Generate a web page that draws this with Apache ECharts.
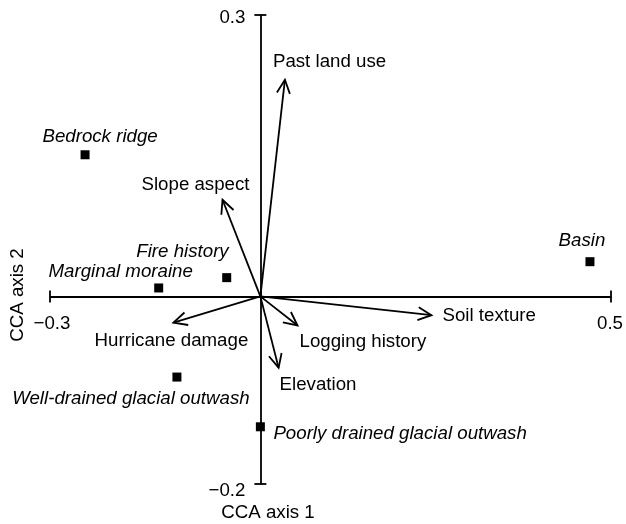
<!DOCTYPE html>
<html>
<head>
<meta charset="UTF-8">
<title>CCA biplot</title>
<script src="https://cdn.jsdelivr.net/npm/echarts@6/dist/echarts.min.js"></script>
<style>
    html, body { margin: 0; padding: 0; background: #fff; }
    #chart { width: 626px; height: 524px; }
</style>
</head>
<body>
<div id="chart"></div>
<script>
    // sites (squares)
    const siteNames = ['Bedrock ridge', 'Basin', 'Fire history', 'Marginal moraine',
        'Well-drained glacial outwash', 'Poorly drained glacial outwash'];
    const siteAxis1 = [-0.250, 0.470, -0.048, -0.145, -0.119, 0.000];
    const siteAxis2 = [0.151, 0.037, 0.020, 0.009, -0.086, -0.139];

    // environmental variables (arrows)
    const varNames = ['Past land use', 'Slope aspect', 'Hurricane damage',
        'Logging history', 'Elevation', 'Soil texture'];
    const varAxis1 = [0.035, -0.054, -0.124, 0.053, 0.026, 0.244];
    const varAxis2 = [0.231, 0.103, -0.028, -0.031, -0.076, -0.020];

    const xTicks = [-0.3, 0.5];
    const yTicks = [-0.2, 0.3];

    // label placement (pixels from the mark)
    const siteLabelPos = [
        { offset: [15, -18], align: 'center' },
        { offset: [-8, -21], align: 'center' },
        { offset: [2, -26], align: 'right' },
        { offset: [-38, -16], align: 'center' },
        { offset: [-46, 22], align: 'center' },
        { offset: [13, 7], align: 'left' }
    ];
    const varLabelPos = [
        { offset: [-12, -18], align: 'left' },
        { offset: [-27, -15], align: 'center' },
        { offset: [-2, 18], align: 'center' },
        { offset: [2, 16], align: 'left' },
        { offset: [1, 17], align: 'left' },
        { offset: [11, 1], align: 'left' }
    ];

    const FONT = 'Liberation Sans, Arial, Helvetica, sans-serif';
    const FS = 18.7;
    const fmt = v => (v < 0 ? '\u2212' : '') + Math.abs(v).toFixed(1);

    const chart = echarts.init(document.getElementById('chart'));

    const siteData = siteNames.map((n, i) => ({
        name: n,
        value: [siteAxis1[i], siteAxis2[i]],
        label: {
            show: true,
            formatter: n,
            position: 'inside',
            offset: siteLabelPos[i].offset,
            align: siteLabelPos[i].align,
            verticalAlign: 'middle'
        }
    }));

    // end labels of the axes, placed through the axis scales
    const tickLabelData = [
        ...xTicks.map(v => ({ value: [v, 0], label: { formatter: fmt(v), offset: [v < 0 ? 2 : -1, 27], align: 'center' } })),
        ...yTicks.map(v => ({ value: [0, v], label: { formatter: fmt(v), offset: [-15, v > 0 ? 3 : 7], align: 'right' } }))
    ];

    const arrowData = varNames.map((n, i) => [varAxis1[i], varAxis2[i], i]);

    function renderArrow(params, api) {
        const i = api.value(2);
        const o = api.coord([0, 0]);
        const p = api.coord([api.value(0), api.value(1)]);
        const ang = Math.atan2(p[1] - o[1], p[0] - o[0]);
        const len = 15, spread = 0.45;
        const a1 = [p[0] - len * Math.cos(ang - spread), p[1] - len * Math.sin(ang - spread)];
        const a2 = [p[0] - len * Math.cos(ang + spread), p[1] - len * Math.sin(ang + spread)];
        const lp = varLabelPos[i];
        return {
            type: 'group',
            children: [
                { type: 'line', shape: { x1: o[0], y1: o[1], x2: p[0], y2: p[1] },
                  style: { stroke: '#000', lineWidth: 1.8 } },
                { type: 'polyline', shape: { points: [a1, p, a2] },
                  style: { stroke: '#000', lineWidth: 1.8, fill: null } },
                { type: 'text', x: p[0] + lp.offset[0], y: p[1] + lp.offset[1],
                  style: { text: varNames[i], font: FS + 'px ' + FONT, fill: '#000',
                           align: lp.align, verticalAlign: 'middle' } }
            ]
        };
    }

    const mainAxisLine = { onZero: true, lineStyle: { color: '#000', width: 1.8 } };
    const tickStyle = { color: '#000', width: 1.8 };

    chart.setOption({
        animation: false,
        textStyle: { fontFamily: FONT, color: '#000' },
        grid: { left: 50, right: 15, top: 15, bottom: 40, containLabel: false, outerBoundsMode: 'none' },
        xAxis: [
            {
                type: 'value', min: -0.3, max: 0.5, position: 'bottom',
                axisLine: mainAxisLine,
                splitLine: { show: false },
                axisTick: { inside: false, length: 6, customValues: xTicks, lineStyle: tickStyle },
                axisLabel: { show: false }
            },
            {
                type: 'value', min: -0.3, max: 0.5, position: 'top',
                axisLine: { show: false, onZero: true },
                splitLine: { show: false },
                axisTick: { inside: false, length: 6, customValues: xTicks, lineStyle: tickStyle },
                axisLabel: { show: false }
            }
        ],
        yAxis: [
            {
                type: 'value', min: -0.2, max: 0.3, position: 'left',
                axisLine: mainAxisLine,
                splitLine: { show: false },
                axisTick: { inside: false, length: 6, customValues: yTicks, lineStyle: tickStyle },
                axisLabel: { show: false }
            },
            {
                type: 'value', min: -0.2, max: 0.3, position: 'right',
                axisLine: { show: false, onZero: true },
                splitLine: { show: false },
                axisTick: { inside: false, length: 6, customValues: yTicks, lineStyle: tickStyle },
                axisLabel: { show: false }
            }
        ],
        graphic: [
            { type: 'text', x: 268, y: 513,
              style: { text: 'CCA axis 1', font: FS + 'px ' + FONT, fill: '#000',
                       align: 'center', verticalAlign: 'middle' } },
            { type: 'text', x: 18, y: 295, rotation: Math.PI / 2,
              style: { text: 'CCA axis 2', font: FS + 'px ' + FONT, fill: '#000',
                       align: 'center', verticalAlign: 'middle' } }
        ],
        series: [
            {
                type: 'custom',
                xAxisIndex: 0, yAxisIndex: 0,
                renderItem: renderArrow,
                data: arrowData,
                silent: true
            },
            {
                type: 'scatter',
                xAxisIndex: 0, yAxisIndex: 0,
                symbol: 'rect',
                symbolSize: 9,
                itemStyle: { color: '#000', opacity: 1 },
                label: { fontStyle: 'italic', fontSize: FS, color: '#000', fontFamily: FONT },
                data: siteData,
                silent: true
            },
            {
                type: 'scatter',
                xAxisIndex: 0, yAxisIndex: 0,
                symbol: 'circle',
                symbolSize: 1,
                itemStyle: { color: 'rgba(0,0,0,0)', opacity: 1 },
                label: { show: true, position: 'inside', verticalAlign: 'middle',
                         fontSize: FS, color: '#000', fontFamily: FONT },
                data: tickLabelData,
                silent: true
            }
        ]
    });
</script>
</body>
</html>
